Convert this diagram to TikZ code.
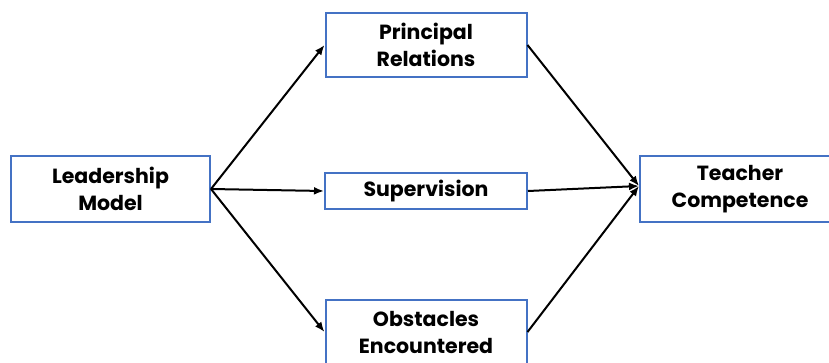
\documentclass[tikz,border=0pt]{standalone}
\usepackage{fontspec}
\setmainfont{Poppins}
\usetikzlibrary{arrows.meta}
\definecolor{boxblue}{RGB}{68,114,196}
\begin{document}
\begin{tikzpicture}[x=1pt,y=-1pt,
  box/.style={draw=boxblue, line width=2pt, fill=white, rectangle, align=center,
    font=\fontsize{20.5}{27}\selectfont\bfseries, inner sep=0pt},
  conn/.style={draw=black, line width=2pt, -{Latex[length=10pt,width=8pt]}}]
\useasboundingbox (0,0) rectangle (829,362);
\node[box, minimum width=199pt, minimum height=66pt] (lead) at (110.5,189) {Leadership\\Model};
\node[box, minimum width=201pt, minimum height=64pt] (pr) at (426,45) {Principal\\Relations};
\node[box, minimum width=202pt, minimum height=36pt] (sup) at (426,191) {Supervision};
\node[box, minimum width=201pt, minimum height=64pt] (obs) at (426,332) {Obstacles\\Encountered};
\node[box, minimum width=200pt, minimum height=66pt] (tc) at (740,189) {Teacher\\Competence};
\coordinate (src) at (lead.east);
\coordinate (dst) at ([yshift=3pt]tc.west);
\draw[conn] (src) -- (pr.west);
\draw[conn] (src) -- (sup.west);
\draw[conn] (src) -- (obs.west);
\draw[conn] (pr.east) -- (dst);
\draw[conn] (sup.east) -- (dst);
\draw[conn] (obs.east) -- (dst);
\end{tikzpicture}
\end{document}
